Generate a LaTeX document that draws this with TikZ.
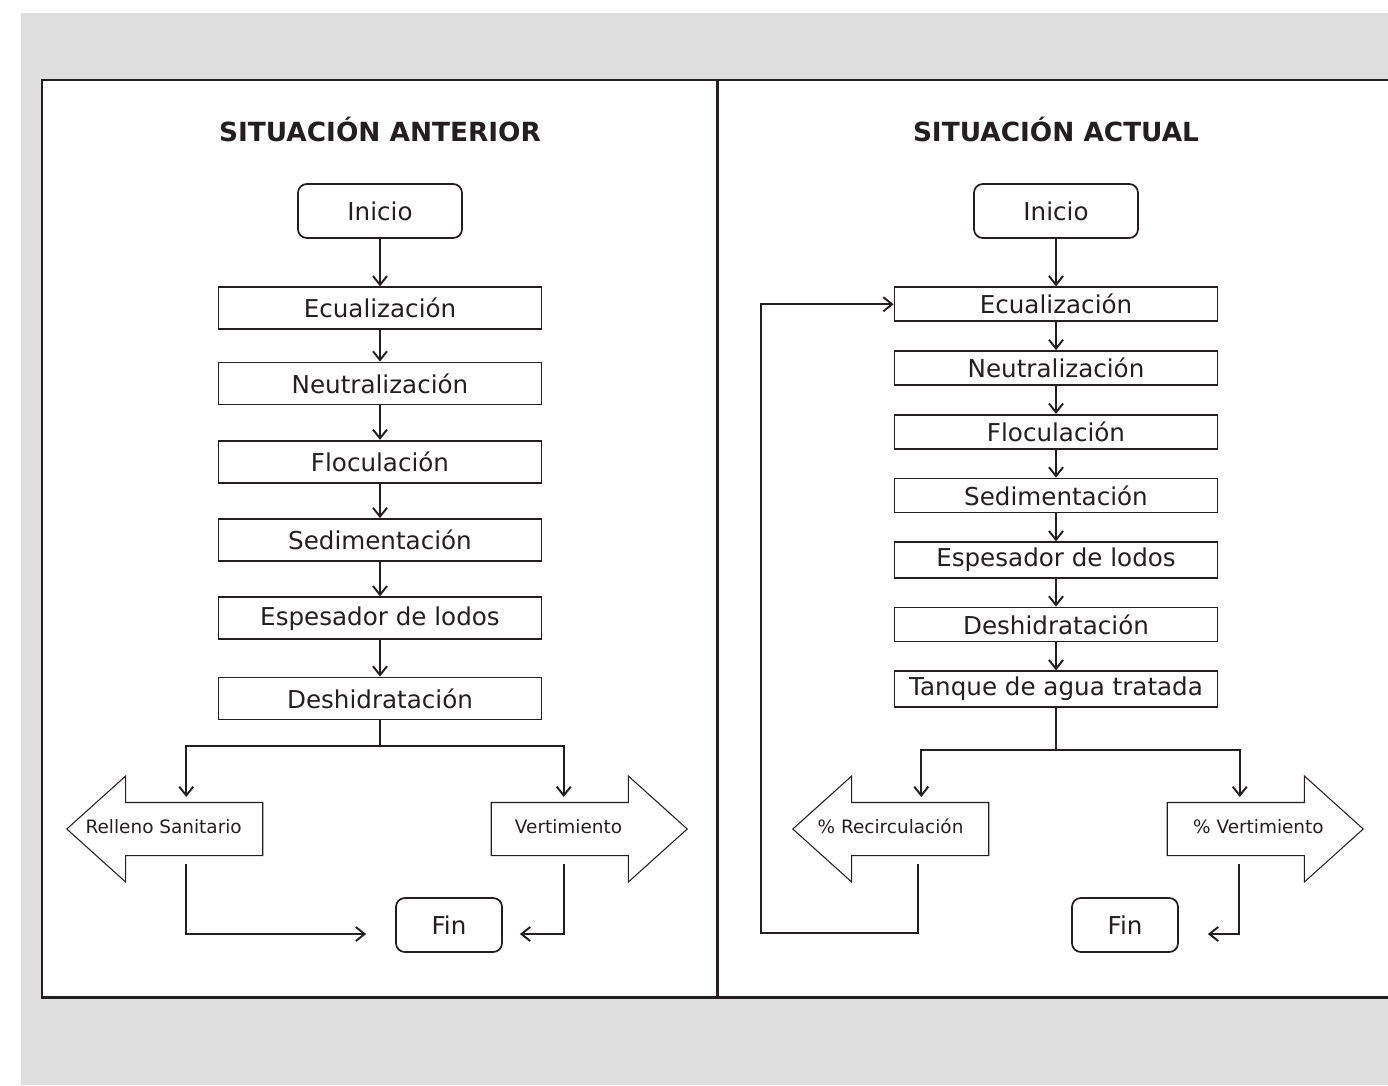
\documentclass[tikz,border=0pt]{standalone}
\usepackage{fontspec}
\setmainfont{DejaVu Sans}
\usetikzlibrary{shapes.arrows,positioning,calc,arrows.meta}
\definecolor{ink}{HTML}{231F20}
\definecolor{backgray}{HTML}{DEDEDE}
% text of an exit arrow, moved along the arrow by #1
\newcommand{\exittext}[2]{\rlap{\hspace*{#1}\makebox[0pt]{#2}}}

\begin{document}
\begin{tikzpicture}
            [x=0.02cm, y=-0.02cm,
            >={Straight Barb[length=5pt,width=8pt]},
            every node/.style={text=ink},
            proc/.style={rectangle, draw=ink, line width=1pt,
                minimum width=6.46cm, font=\fontsize{14}{16}\selectfont},
            procA/.style={proc, minimum height=0.84cm},
            procB/.style={proc, minimum height=0.68cm},
            term/.style={rectangle, rounded corners=5pt, draw=ink, line width=1pt,
                minimum height=1.08cm, font=\fontsize{14}{16}\selectfont},
            exit/.style={single arrow, draw=ink, line width=0.6pt, minimum height=3.92cm,
                single arrow head extend=0.53cm, single arrow tip angle=84,
                inner xsep=2pt, inner ysep=0.3cm, text height=0.3cm, text depth=0.14cm,
                font=\fontsize{10.5}{12}\selectfont},
            title/.style={font=\fontsize{15}{18}\selectfont\bfseries},
            flow/.style={->, draw=ink, line width=1.1pt}
            ]
            \useasboundingbox (0,0) rectangle (1388,1085);
            \fill[white] (0,0) rectangle (1388,1085);
            \fill[backgray] (21,13) rectangle (1388,1085);
            \filldraw[fill=white, draw=ink, line width=1.7pt] (42,80) rectangle (1420,997);
            \draw[ink, line width=1.7pt] (717,80) -- (717,997);

            \node[title] (titA) at (380,129) {SITUACIÓN ANTERIOR};
            \node[title] (titB) at (1056,129) {SITUACIÓN ACTUAL};

            % Situacion anterior
            \node[term, minimum width=3.28cm] (inicioA) at (380,211) {Inicio};
            \node[procA, below=0.95cm of inicioA] (ecuA) {Ecualización};
            \node[procA, below=0.63cm of ecuA] (neuA) {Neutralización};
            \node[procA, below=0.69cm of neuA] (flocA) {Floculación};
            \node[procA, below=0.69cm of flocA] (sedA) {Sedimentación};
            \node[procA, below=0.69cm of sedA] (espA) {Espesador de lodos};
            \node[procA, below=0.73cm of espA] (deshA) {Deshidratación};
            \node[exit, shape border rotate=180, anchor=tip] (rellA) at (66,829) {\exittext{-9pt}{Relleno Sanitario}};
            \node[exit, anchor=tip] (vertA) at (688,829) {\exittext{-3.4pt}{Vertimiento}};
            \node[term, minimum width=2.12cm] (finA) at (449,925) {Fin};

            \foreach \i/\j in {inicioA/ecuA,ecuA/neuA,neuA/flocA,flocA/sedA,sedA/espA,espA/deshA}
            \draw [flow] (\i) -- (\j);
            \draw [flow] (deshA.south) -- ++(0,26) -| ($(rellA.tail)+(-77,-32)$);
            \draw [flow] (deshA.south) -- ++(0,26) -| ($(vertA.tail)+(73,-32)$);
            \draw [flow] ($(rellA.tail)+(-77,35)$) |- ($(finA.west)+(-29,9)$);
            \draw [flow] ($(vertA.tail)+(73,35)$) |- ($(finA.east)+(17,9)$);

            % Situacion actual
            \node[term, minimum width=3.28cm] (inicioB) at (1056,211) {Inicio};
            \node[procB, below=0.95cm of inicioB] (ecuB) {Ecualización};
            \node[procB, below=0.56cm of ecuB] (neuB) {Neutralización};
            \node[procB, below=0.56cm of neuB] (flocB) {Floculación};
            \node[procB, below=0.56cm of flocB] (sedB) {Sedimentación};
            \node[procB, below=0.56cm of sedB] (espB) {Espesador de lodos};
            \node[procB, below=0.56cm of espB] (deshB) {Deshidratación};
            \node[procB, below=0.56cm of deshB] (tanB) {Tanque de agua tratada};
            \node[exit, shape border rotate=180, anchor=tip] (recB) at (792,829) {\exittext{-8.5pt}{\% Recirculación}};
            \node[exit, anchor=tip] (vertB) at (1364,829) {\exittext{4.5pt}{\% Vertimiento}};
            \node[term, minimum width=2.12cm] (finB) at (1125,925) {Fin};

            \foreach \i/\j in {inicioB/ecuB,ecuB/neuB,neuB/flocB,flocB/sedB,sedB/espB,espB/deshB,deshB/tanB}
            \draw [flow] (\i) -- (\j);
            \draw [flow] (tanB.south) -- ++(0,42) -| ($(recB.tail)+(-68,-32)$);
            \draw [flow] (tanB.south) -- ++(0,42) -| ($(vertB.tail)+(73,-32)$);
            \draw [flow] ($(recB.tail)+(-71,35)$) |- ($(recB.tail)+(-228,104)$) |- (ecuB.west);
            \draw [flow] ($(vertB.tail)+(72,35)$) |- ($(finB.east)+(29,9)$);
        \end{tikzpicture}
\end{document}
